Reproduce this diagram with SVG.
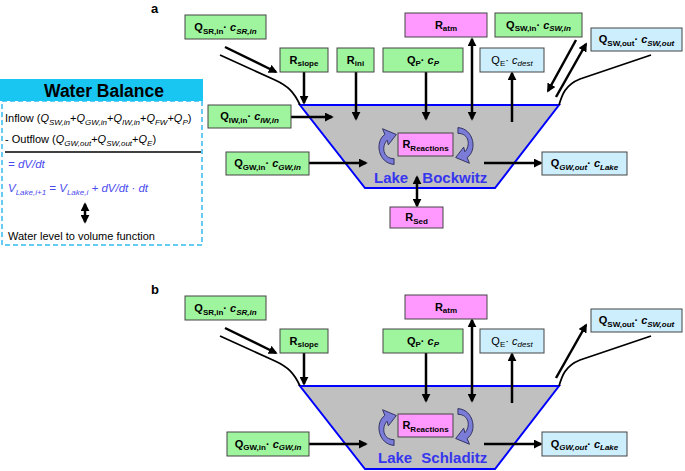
<svg xmlns="http://www.w3.org/2000/svg" width="685" height="471" viewBox="0 0 685 471">
<defs>
<style>
text{font-family:"Liberation Sans",Arial,sans-serif;}
.g{fill:#9ef59e;stroke:#444;stroke-width:1;}
.p{fill:#ff99ff;stroke:#444;stroke-width:1;}
.b{fill:#cdeefd;stroke:#444;stroke-width:1;}
.lb{font-size:11px;font-weight:bold;fill:#000;}
.ln{font-size:11px;fill:#000;}
.s{font-size:8px;}
.i{font-style:italic;}
.ar{stroke:#000;stroke-width:2.5;fill:none;}
.gr{stroke:#000;stroke-width:1.8;fill:none;}
.lake{fill:#c0c0c0;stroke:#0000ff;stroke-width:2;}
.lt{font-size:15px;font-weight:bold;fill:#3636ee;word-spacing:10px;}
.wb{font-size:11px;fill:#000;}
.ws{font-size:8px;}
.wbb{font-size:11.5px;fill:#4a4aee;font-style:italic;}
.curl{fill:#7b7bd8;stroke:#2a2a5a;stroke-width:0.8;}
</style>
<marker id="ah" viewBox="0 0 10 10" refX="8" refY="5" markerWidth="9" markerHeight="9" markerUnits="userSpaceOnUse" orient="auto-start-reverse"><path d="M0,0 L10,5 L0,10 z" fill="#000"/></marker>
<path id="curl" d="M7,16 C-7,15 -10,-4 -1,-10 L-3,-15 L9,-10 L2,-1 L1,-5 C-4,0 -3,11 7,11 Z"/>
</defs>

<!-- Water balance panel -->
<g id="water-balance">
<rect x="2" y="101" width="200" height="144" fill="none" stroke="#33bbee" stroke-width="1.5" stroke-dasharray="5,3"/>
<rect x="0" y="79" width="203" height="22" fill="#19c6f2"/>
<text x="104" y="97" text-anchor="middle" style="font-size:17.5px;font-weight:bold">Water Balance</text>
<text x="5" y="122" class="wb">Inflow (<tspan class="i">Q</tspan><tspan class="i ws" dy="2.5">SW,in</tspan><tspan dy="-2.5">+</tspan><tspan class="i">Q</tspan><tspan class="i ws" dy="2.5">GW,in</tspan><tspan dy="-2.5">+</tspan><tspan class="i">Q</tspan><tspan class="i ws" dy="2.5">IW,in</tspan><tspan dy="-2.5">+</tspan><tspan class="i">Q</tspan><tspan class="i ws" dy="2.5">FW</tspan><tspan dy="-2.5">+</tspan><tspan class="i">Q</tspan><tspan class="i ws" dy="2.5">P</tspan><tspan dy="-2.5">)</tspan></text>
<text x="5" y="143" class="wb">- Outflow (<tspan class="i">Q</tspan><tspan class="i ws" dy="2.5">GW,out</tspan><tspan dy="-2.5">+</tspan><tspan class="i">Q</tspan><tspan class="i ws" dy="2.5">SW,out</tspan><tspan dy="-2.5">+</tspan><tspan class="i">Q</tspan><tspan class="i ws" dy="2.5">E</tspan><tspan dy="-2.5">)</tspan></text>
<line x1="5" y1="152" x2="201" y2="152" stroke="#000" stroke-width="1.5"/>
<text x="8" y="168" class="wbb">= dV/dt</text>
<text x="8" y="192" class="wbb">V<tspan class="ws" dy="2.5">Lake,i+1</tspan><tspan dy="-2.5"> = V</tspan><tspan class="ws" dy="2.5">Lake,i</tspan><tspan dy="-2.5"> + dV/dt · dt</tspan></text>
<line x1="85" y1="204" x2="85" y2="222" class="ar" marker-start="url(#ah)" marker-end="url(#ah)"/>
<text x="8" y="240" class="wb">Water level to volume function</text>
</g>

<text x="151" y="13" style="font-size:13px;font-weight:bold">a</text>
<text x="151" y="294" style="font-size:13px;font-weight:bold">b</text>

<!-- Panel a lake -->
<g id="lake-a">
<polygon class="lake" points="300,105 559,105 495,188 365,188"/>
<text x="374" y="183" class="lt">Lake Bockwitz</text>
<use href="#curl" class="curl" transform="translate(386,146) scale(1.15)"/>
<use href="#curl" class="curl" transform="translate(466,146) rotate(180) scale(1.15)"/>
</g>
<g id="lake-b">
<polygon class="lake" points="300,386 559,386 495,469 365,469"/>
<text x="378" y="463" class="lt" style="word-spacing:5px">Lake Schladitz</text>
<use href="#curl" class="curl" transform="translate(386,427) scale(1.15)"/>
<use href="#curl" class="curl" transform="translate(466,427) rotate(180) scale(1.15)"/>
</g>

<!-- connectors -->
<g id="connectors">
<path class="gr" d="M220,55 L275,80 C288,86 294,92 300,105"/>
<path class="gr" d="M559,105 C562,95 565,85 580,79 L651,55"/>
<line class="ar" x1="225" y1="47" x2="276" y2="72" marker-end="url(#ah)"/>
<line class="ar" x1="304" y1="72" x2="304" y2="103" marker-end="url(#ah)"/>
<line class="ar" x1="356" y1="72" x2="356" y2="119" marker-end="url(#ah)"/>
<line class="ar" x1="426" y1="72" x2="426" y2="119" marker-end="url(#ah)"/>
<line class="ar" x1="472" y1="39" x2="472" y2="119" marker-start="url(#ah)" marker-end="url(#ah)"/>
<line class="ar" x1="512" y1="122" x2="512" y2="73" marker-end="url(#ah)"/>
<line class="ar" x1="576" y1="40" x2="548" y2="91" marker-end="url(#ah)"/>
<line class="ar" x1="556" y1="97" x2="586" y2="44" marker-end="url(#ah)"/>
<line class="ar" x1="291" y1="117" x2="332" y2="117" marker-end="url(#ah)"/>
<line class="ar" x1="309" y1="163" x2="366" y2="163" marker-end="url(#ah)"/>
<line class="ar" x1="484" y1="163" x2="541" y2="163" marker-end="url(#ah)"/>
<line class="ar" x1="417" y1="177" x2="417" y2="206" marker-start="url(#ah)" marker-end="url(#ah)"/>

<path class="gr" d="M220,336 L275,361 C288,367 294,373 300,386"/>
<path class="gr" d="M559,386 C562,376 565,366 580,360 L651,336"/>
<line class="ar" x1="225" y1="328" x2="276" y2="353" marker-end="url(#ah)"/>
<line class="ar" x1="304" y1="353" x2="304" y2="384" marker-end="url(#ah)"/>
<line class="ar" x1="426" y1="353" x2="426" y2="401" marker-end="url(#ah)"/>
<line class="ar" x1="472" y1="320" x2="472" y2="401" marker-start="url(#ah)" marker-end="url(#ah)"/>
<line class="ar" x1="512" y1="403" x2="512" y2="354" marker-end="url(#ah)"/>
<line class="ar" x1="556" y1="378" x2="586" y2="325" marker-end="url(#ah)"/>
<line class="ar" x1="309" y1="444" x2="366" y2="444" marker-end="url(#ah)"/>
<line class="ar" x1="484" y1="444" x2="541" y2="444" marker-end="url(#ah)"/>
</g>

<!-- Panel a nodes -->
<g id="a-qsr"><rect class="g" x="185" y="15" width="81" height="24"/><text x="225.5" y="31" class="lb" text-anchor="middle">Q<tspan class="s" dy="2.5">SR,in</tspan><tspan dy="-2.5">· </tspan><tspan class="i">c</tspan><tspan class="s i" dy="2.5">SR,in</tspan></text></g>
<g id="a-rslope"><rect class="g" x="280" y="48" width="48" height="24"/><text x="304" y="63.5" class="lb" text-anchor="middle">R<tspan class="s" dy="2.5">slope</tspan></text></g>
<g id="a-rini"><rect class="g" x="337" y="48" width="37" height="24"/><text x="355.5" y="63.5" class="lb" text-anchor="middle">R<tspan class="s" dy="2.5">ini</tspan></text></g>
<g id="a-qp"><rect class="g" x="383" y="48" width="80" height="24"/><text x="423" y="63.5" class="lb" text-anchor="middle">Q<tspan class="s" dy="2.5">P</tspan><tspan dy="-2.5">· </tspan><tspan class="i">c</tspan><tspan class="s i" dy="2.5">P</tspan></text></g>
<g id="a-ratm"><rect class="p" x="405" y="13" width="82" height="24"/><text x="446" y="28.5" class="lb" text-anchor="middle">R<tspan class="s" dy="2.5">atm</tspan></text></g>
<g id="a-qe"><rect class="b" x="480" y="48" width="64" height="24"/><text x="512" y="63.5" class="ln" text-anchor="middle">Q<tspan class="s" dy="2.5">E</tspan><tspan dy="-2.5">· </tspan><tspan class="i">c</tspan><tspan class="s i" dy="2.5">dest</tspan></text></g>
<g id="a-qswin"><rect class="g" x="495" y="13" width="87" height="24"/><text x="538.5" y="28.5" class="lb" text-anchor="middle">Q<tspan class="s" dy="2.5">SW,in</tspan><tspan dy="-2.5">· </tspan><tspan class="i">c</tspan><tspan class="s i" dy="2.5">SW,in</tspan></text></g>
<g id="a-qswout"><rect class="b" x="591" y="28" width="91" height="23"/><text x="636.5" y="43" class="lb" text-anchor="middle">Q<tspan class="s" dy="2.5">SW,out</tspan><tspan dy="-2.5">· </tspan><tspan class="i">c</tspan><tspan class="s i" dy="2.5">SW,out</tspan></text></g>
<g id="a-qiw"><rect class="g" x="208" y="105" width="83" height="23"/><text x="249.5" y="120" class="lb" text-anchor="middle">Q<tspan class="s" dy="2.5">IW,in</tspan><tspan dy="-2.5">· </tspan><tspan class="i">c</tspan><tspan class="s i" dy="2.5">IW,in</tspan></text></g>
<g id="a-qgwin"><rect class="g" x="226" y="152" width="83" height="23"/><text x="267.5" y="167" class="lb" text-anchor="middle">Q<tspan class="s" dy="2.5">GW,in</tspan><tspan dy="-2.5">· </tspan><tspan class="i">c</tspan><tspan class="s i" dy="2.5">GW,in</tspan></text></g>
<g id="a-rreact"><rect class="p" x="398" y="133" width="55" height="23"/><text x="425.5" y="148" class="lb" text-anchor="middle">R<tspan class="s" dy="2.5">Reactions</tspan></text></g>
<g id="a-qgwout"><rect class="b" x="542" y="152" width="85" height="23"/><text x="584.5" y="167" class="lb" text-anchor="middle">Q<tspan class="s i" dy="2.5">GW,out</tspan><tspan dy="-2.5">· </tspan><tspan class="i">c</tspan><tspan class="s i" dy="2.5">Lake</tspan></text></g>
<g id="a-rsed"><rect class="p" x="390" y="207" width="53" height="21"/><text x="416.5" y="221" class="lb" text-anchor="middle">R<tspan class="s" dy="2.5">Sed</tspan></text></g>

<!-- Panel b nodes -->
<g id="b-qsr"><rect class="g" x="185" y="296" width="81" height="24"/><text x="225.5" y="312" class="lb" text-anchor="middle">Q<tspan class="s" dy="2.5">SR,in</tspan><tspan dy="-2.5">· </tspan><tspan class="i">c</tspan><tspan class="s i" dy="2.5">SR,in</tspan></text></g>
<g id="b-rslope"><rect class="g" x="280" y="329" width="48" height="24"/><text x="304" y="344.5" class="lb" text-anchor="middle">R<tspan class="s" dy="2.5">slope</tspan></text></g>
<g id="b-qp"><rect class="g" x="383" y="329" width="80" height="24"/><text x="423" y="344.5" class="lb" text-anchor="middle">Q<tspan class="s" dy="2.5">P</tspan><tspan dy="-2.5">· </tspan><tspan class="i">c</tspan><tspan class="s i" dy="2.5">P</tspan></text></g>
<g id="b-ratm"><rect class="p" x="405" y="295" width="82" height="24"/><text x="446" y="310.5" class="lb" text-anchor="middle">R<tspan class="s" dy="2.5">atm</tspan></text></g>
<g id="b-qe"><rect class="b" x="480" y="329" width="64" height="24"/><text x="512" y="344.5" class="ln" text-anchor="middle">Q<tspan class="s" dy="2.5">E</tspan><tspan dy="-2.5">· </tspan><tspan class="i">c</tspan><tspan class="s i" dy="2.5">dest</tspan></text></g>
<g id="b-qswout"><rect class="b" x="591" y="309" width="91" height="23"/><text x="636.5" y="324" class="lb" text-anchor="middle">Q<tspan class="s" dy="2.5">SW,out</tspan><tspan dy="-2.5">· </tspan><tspan class="i">c</tspan><tspan class="s i" dy="2.5">SW,out</tspan></text></g>
<g id="b-qgwin"><rect class="g" x="227" y="432" width="82" height="24"/><text x="268" y="447.5" class="lb" text-anchor="middle">Q<tspan class="s" dy="2.5">GW,in</tspan><tspan dy="-2.5">· </tspan><tspan class="i">c</tspan><tspan class="s i" dy="2.5">GW,in</tspan></text></g>
<g id="b-rreact"><rect class="p" x="398" y="414" width="55" height="23"/><text x="425.5" y="429" class="lb" text-anchor="middle">R<tspan class="s" dy="2.5">Reactions</tspan></text></g>
<g id="b-qgwout"><rect class="b" x="542" y="432" width="85" height="24"/><text x="584.5" y="447.5" class="lb" text-anchor="middle">Q<tspan class="s i" dy="2.5">GW,out</tspan><tspan dy="-2.5">· </tspan><tspan class="i">c</tspan><tspan class="s i" dy="2.5">Lake</tspan></text></g>
</svg>
